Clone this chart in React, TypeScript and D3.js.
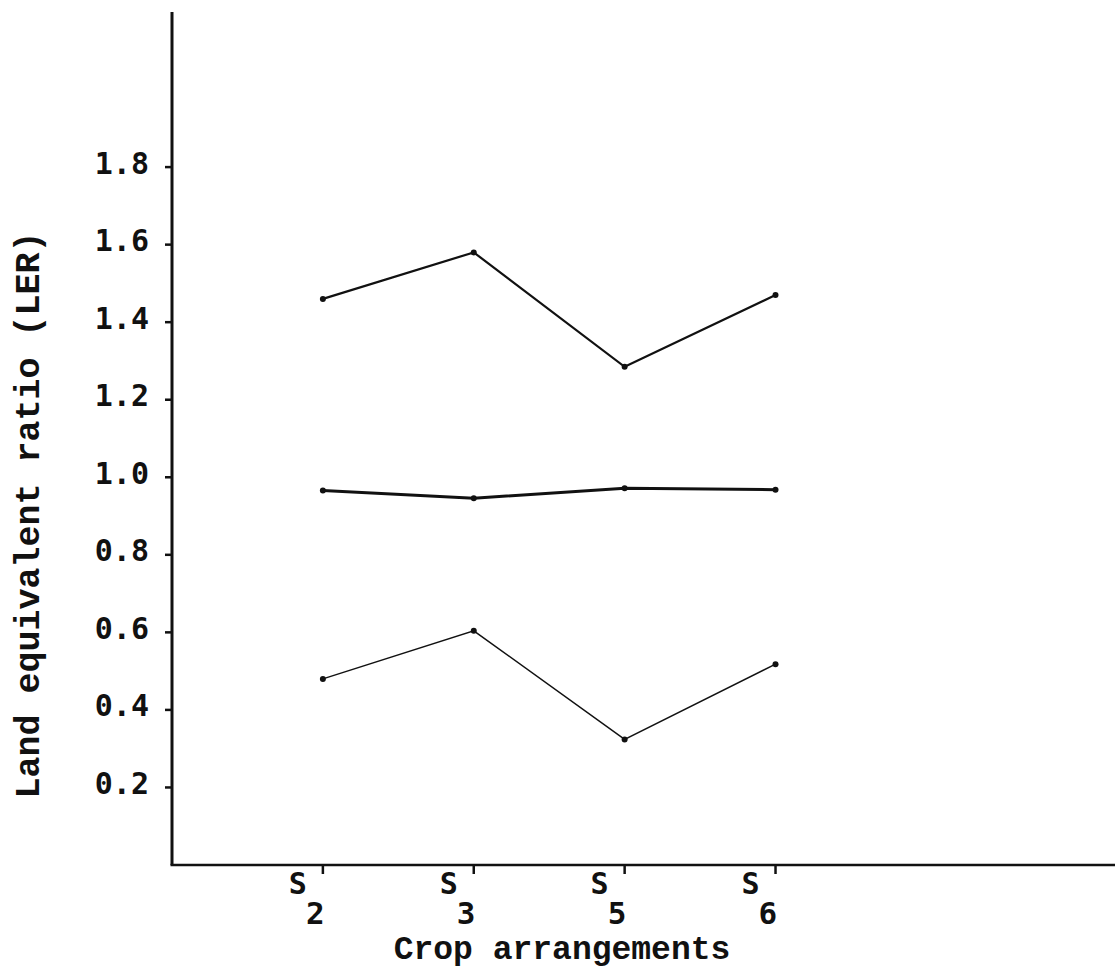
import * as d3 from "d3"

// values
const categories = ["2", "3", "5", "6"]
const upperLER = [1.46, 1.58, 1.285, 1.47]
const totalLER = [0.966, 0.946, 0.972, 0.968]
const lowerLER = [0.48, 0.604, 0.324, 0.518]
const yTicks = [0.2, 0.4, 0.6, 0.8, 1.0, 1.2, 1.4, 1.6, 1.8]

const width = 1115
const height = 970
const margin = { left: 172, top: 12, right: 0, bottom: 105 }

export default function App() {
  const x = d3
    .scaleLinear()
    .domain([0, 6.25])
    .range([margin.left, width - margin.right])

  const y = d3
    .scaleLinear()
    .domain([0, 2.2])
    .range([height - margin.bottom, margin.top])

  const line = d3
    .line<number>()
    .x((_, i) => x(i + 1))
    .y((d) => y(d))

  const series = [
    { values: upperLER, width: 2.2 },
    { values: totalLER, width: 3 },
    { values: lowerLER, width: 1.5 },
  ]

  const ink = "#111"
  const tickFont = "'DejaVu Sans Mono', monospace"
  const titleFont = "'Liberation Mono', 'Courier New', monospace"

  return (
    <svg
      width={width}
      height={height}
      style={{ position: "absolute", left: 0, top: 0, background: "#fff" }}
    >
      {/* axes */}
      <line x1={x(0)} x2={x(0)} y1={margin.top} y2={y(0)} stroke={ink} strokeWidth={3} />
      <line x1={x(0) - 1.5} x2={width} y1={y(0)} y2={y(0)} stroke={ink} strokeWidth={2.5} />

      {/* y ticks */}
      {yTicks.map((t) => (
        <g key={t}>
          <line x1={x(0) - 7} x2={x(0)} y1={y(t)} y2={y(t)} stroke={ink} strokeWidth={2.5} />
          <text
            x={149}
            y={y(t) - 2}
            textAnchor="end"
            dominantBaseline="middle"
            fontFamily={tickFont}
            fontWeight="bold"
            fontSize={30}
            fill={ink}
          >
            {t.toFixed(1)}
          </text>
        </g>
      ))}

      {/* x ticks */}
      {categories.map((c, i) => (
        <g key={c}>
          <line x1={x(i + 1)} x2={x(i + 1)} y1={y(0)} y2={y(0) + 9} stroke={ink} strokeWidth={2.5} />
          <text
            x={x(i + 1) - 16}
            y={894}
            textAnchor="end"
            fontFamily={tickFont}
            fontWeight="bold"
            fontSize={30}
            fill={ink}
          >
            S
          </text>
          <text
            x={x(i + 1) - 17}
            y={924}
            textAnchor="start"
            fontFamily={tickFont}
            fontWeight="bold"
            fontSize={31}
            fill={ink}
          >
            {c}
          </text>
        </g>
      ))}

      {/* series */}
      {series.map((s, k) => (
        <g key={k}>
          <path d={line(s.values) || ""} fill="none" stroke={ink} strokeWidth={s.width} />
          {s.values.map((v, i) => (
            <circle key={i} cx={x(i + 1)} cy={y(v)} r={3} fill={ink} />
          ))}
        </g>
      ))}

      {/* axis titles */}
      <text
        x={562}
        y={959}
        textAnchor="middle"
        fontFamily={titleFont}
        fontWeight="bold"
        fontSize={33}
        fill={ink}
      >
        Crop arrangements
      </text>
      <text
        transform={`translate(39, 515) rotate(-90)`}
        textAnchor="middle"
        fontFamily={titleFont}
        fontWeight="bold"
        fontSize={35}
        fill={ink}
      >
        Land equivalent ratio (LER)
      </text>
    </svg>
  )
}
